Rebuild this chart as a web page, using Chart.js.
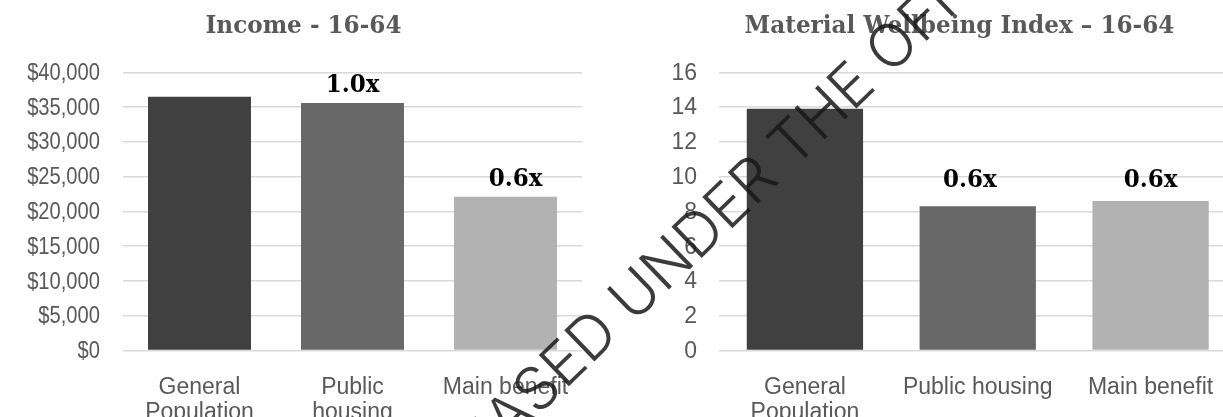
<!DOCTYPE html>
<html>
<head>
<meta charset="utf-8">
<script src="https://cdn.jsdelivr.net/npm/chart.js@4"></script>
<style>
  html, body { margin: 0; padding: 0; background: #fff; }
  #wrap { position: relative; width: 1223px; height: 417px; overflow: hidden; }
  #wrap canvas { position: absolute; top: 0; }
  #incomeChart { left: 0; }
  #mwiChart { left: 607px; }
  #stamp { left: 0; pointer-events: none; }
</style>
</head>
<body>
<div id="wrap">
  <canvas id="incomeChart" width="607" height="417"></canvas>
  <canvas id="mwiChart" width="705" height="417"></canvas>
  <canvas id="stamp" width="1223" height="417"></canvas>
</div>
<script>
// ---- data ----
const incomeCategories = [['General', 'Population'], ['Public', 'housing'], 'Main benefit'];
const incomeValues = [36500, 35600, 22100];
const incomeRatios = ['', '1.0x', '0.6x'];
const incomeAxis = [0, 40000, 5000];          // min, max, step

const mwiCategories = [['General', 'Population'], 'Public housing', 'Main benefit'];
const mwiValues = [13.9, 8.3, 8.6];
const mwiRatios = ['', '0.6x', '0.6x'];
const mwiAxis = [0, 16, 2];                    // min, max, step

const groupColours = ['#404040', '#686868', '#b2b2b2'];

const stampText = 'RELEASED UNDER THE OFFICIAL INFORMATION ACT';

const SERIF = '"DejaVu Serif", serif';
const SANS = '"Liberation Sans", Arial, sans-serif';

// draw text with a horizontal squeeze (for condensed faces)
function squeezedText(ctx, text, x, y, squeeze) {
  ctx.save();
  ctx.translate(x, y);
  ctx.scale(squeeze, 1);
  ctx.fillText(text, 0, 0);
  ctx.restore();
}

// ---- plugins ----
// panel heading
const panelTitle = {
  id: 'panelTitle',
  afterDraw(chart, args, o) {
    const ctx = chart.ctx;
    ctx.save();
    ctx.font = 'bold 25px ' + SERIF;
    ctx.fillStyle = '#595959';
    ctx.textAlign = 'center';
    ctx.textBaseline = 'alphabetic';
    squeezedText(ctx, o.text, chart.width / 2, 33.3, 0.925);
    ctx.restore();
  }
};

// value-axis labels, drawn from the axis' own ticks
const yTickText = {
  id: 'yTickText',
  afterDraw(chart, args, o) {
    const s = chart.scales.y, ctx = chart.ctx;
    ctx.save();
    ctx.font = o.font;
    ctx.fillStyle = '#595959';
    ctx.textAlign = 'right';
    ctx.textBaseline = 'middle';
    s.ticks.forEach((t, i) => {
      squeezedText(ctx, o.format(t.value), s.right - o.gap, s.getPixelForTick(i) + 1, o.squeeze);
    });
    ctx.restore();
  }
};

// ratio call-outs above the bars
const ratioLabels = {
  id: 'ratioLabels',
  afterDatasetsDraw(chart, args, o) {
    const bars = chart.getDatasetMeta(0).data, ctx = chart.ctx;
    const shown = o.texts.map((t, i) => (t ? i : -1)).filter(i => i >= 0);
    const rowTop = Math.min(...shown.map(i => bars[i].y));
    ctx.save();
    ctx.font = 'bold 25px ' + SERIF;
    ctx.fillStyle = '#000';
    ctx.textAlign = 'center';
    ctx.textBaseline = 'alphabetic';
    shown.forEach(i => {
      const top = o.sharedRow ? rowTop : bars[i].y;
      squeezedText(ctx, o.texts[i], bars[i].x + o.nudge[i], top - o.gap, 0.92);
    });
    ctx.restore();
  }
};

function makeChart(id, cfg) {
  return new Chart(document.getElementById(id), {
    type: 'bar',
    data: {
      labels: cfg.labels,
      datasets: [{
        data: cfg.values,
        backgroundColor: groupColours,
        borderWidth: 0,
        barPercentage: 0.673,
        categoryPercentage: 1
      }]
    },
    options: {
      responsive: false,
      animation: false,
      devicePixelRatio: 1,
      events: [],
      layout: { padding: { left: cfg.side, right: cfg.side, top: 72.3, bottom: 0 } },
      plugins: {
        legend: { display: false },
        tooltip: { enabled: false },
        title: { display: false },
        panelTitle: { text: cfg.title },
        yTickText: cfg.tickText,
        ratioLabels: { texts: cfg.ratios, gap: cfg.ratioGap, sharedRow: cfg.sharedRow, nudge: cfg.nudge }
      },
      scales: {
        x: {
          grid: { display: false },
          border: { display: false },
          ticks: {
            color: '#595959',
            font: { family: SANS, size: 23, lineHeight: 25 / 23 },
            padding: 16.5,
            maxRotation: 0,
            autoSkip: false
          },
          afterFit(s) { s.height = 66.5; }
        },
        y: {
          min: cfg.axis[0],
          max: cfg.axis[1],
          ticks: { stepSize: cfg.axis[2], display: false },
          grid: { color: '#d9d9d9', lineWidth: 1.5, drawTicks: false },
          border: { display: false },
          afterFit(s) { s.width = cfg.axisWidth; }
        }
      }
    },
    plugins: [panelTitle, yTickText, ratioLabels]
  });
}

makeChart('incomeChart', {
  title: 'Income - 16-64',
  labels: incomeCategories,
  values: incomeValues,
  ratios: incomeRatios,
  axis: incomeAxis,
  side: 25,
  axisWidth: 98,
  ratioGap: 10.5,
  sharedRow: false,
  nudge: [0, 0, 10],
  tickText: {
    font: '24px ' + SANS,
    squeeze: 0.84,
    gap: 23,
    format: v => '$' + v.toLocaleString('en-US')
  }
});

makeChart('mwiChart', {
  title: 'Material Wellbeing Index \u2013 16-64',
  labels: mwiCategories,
  values: mwiValues,
  ratios: mwiRatios,
  axis: mwiAxis,
  side: 75,
  axisWidth: 36.5,
  ratioGap: 14,
  sharedRow: true,
  nudge: [0, -8, 0],
  tickText: {
    font: '23px ' + SANS,
    squeeze: 1,
    gap: 21.5,
    format: v => String(v)
  }
});

// diagonal release stamp across both panels
(function () {
  const ctx = document.getElementById('stamp').getContext('2d');
  const face = 'Inter, Roboto, "Liberation Sans", sans-serif';
  // size the stamp so the "E" of RELEASED and the "E" of THE sit 400px apart
  ctx.font = '300 100px ' + face;
  const centreOf = (head, ch) => ctx.measureText(head).width + ctx.measureText(ch).width / 2;
  const span100 = centreOf('RELEASED UNDER TH', 'E') - centreOf('RELEAS', 'E');
  const size = 100 * 400 / span100;
  ctx.font = '300 ' + size.toFixed(1) + 'px ' + face;
  const lead = centreOf('RELEAS', 'E');
  ctx.translate(565, 365);
  ctx.rotate(-44 * Math.PI / 180);
  ctx.fillStyle = 'rgba(25,25,25,0.85)';
  ctx.textBaseline = 'middle';
  ctx.fillText(stampText, -lead, 0);
})();
</script>
</body>
</html>
